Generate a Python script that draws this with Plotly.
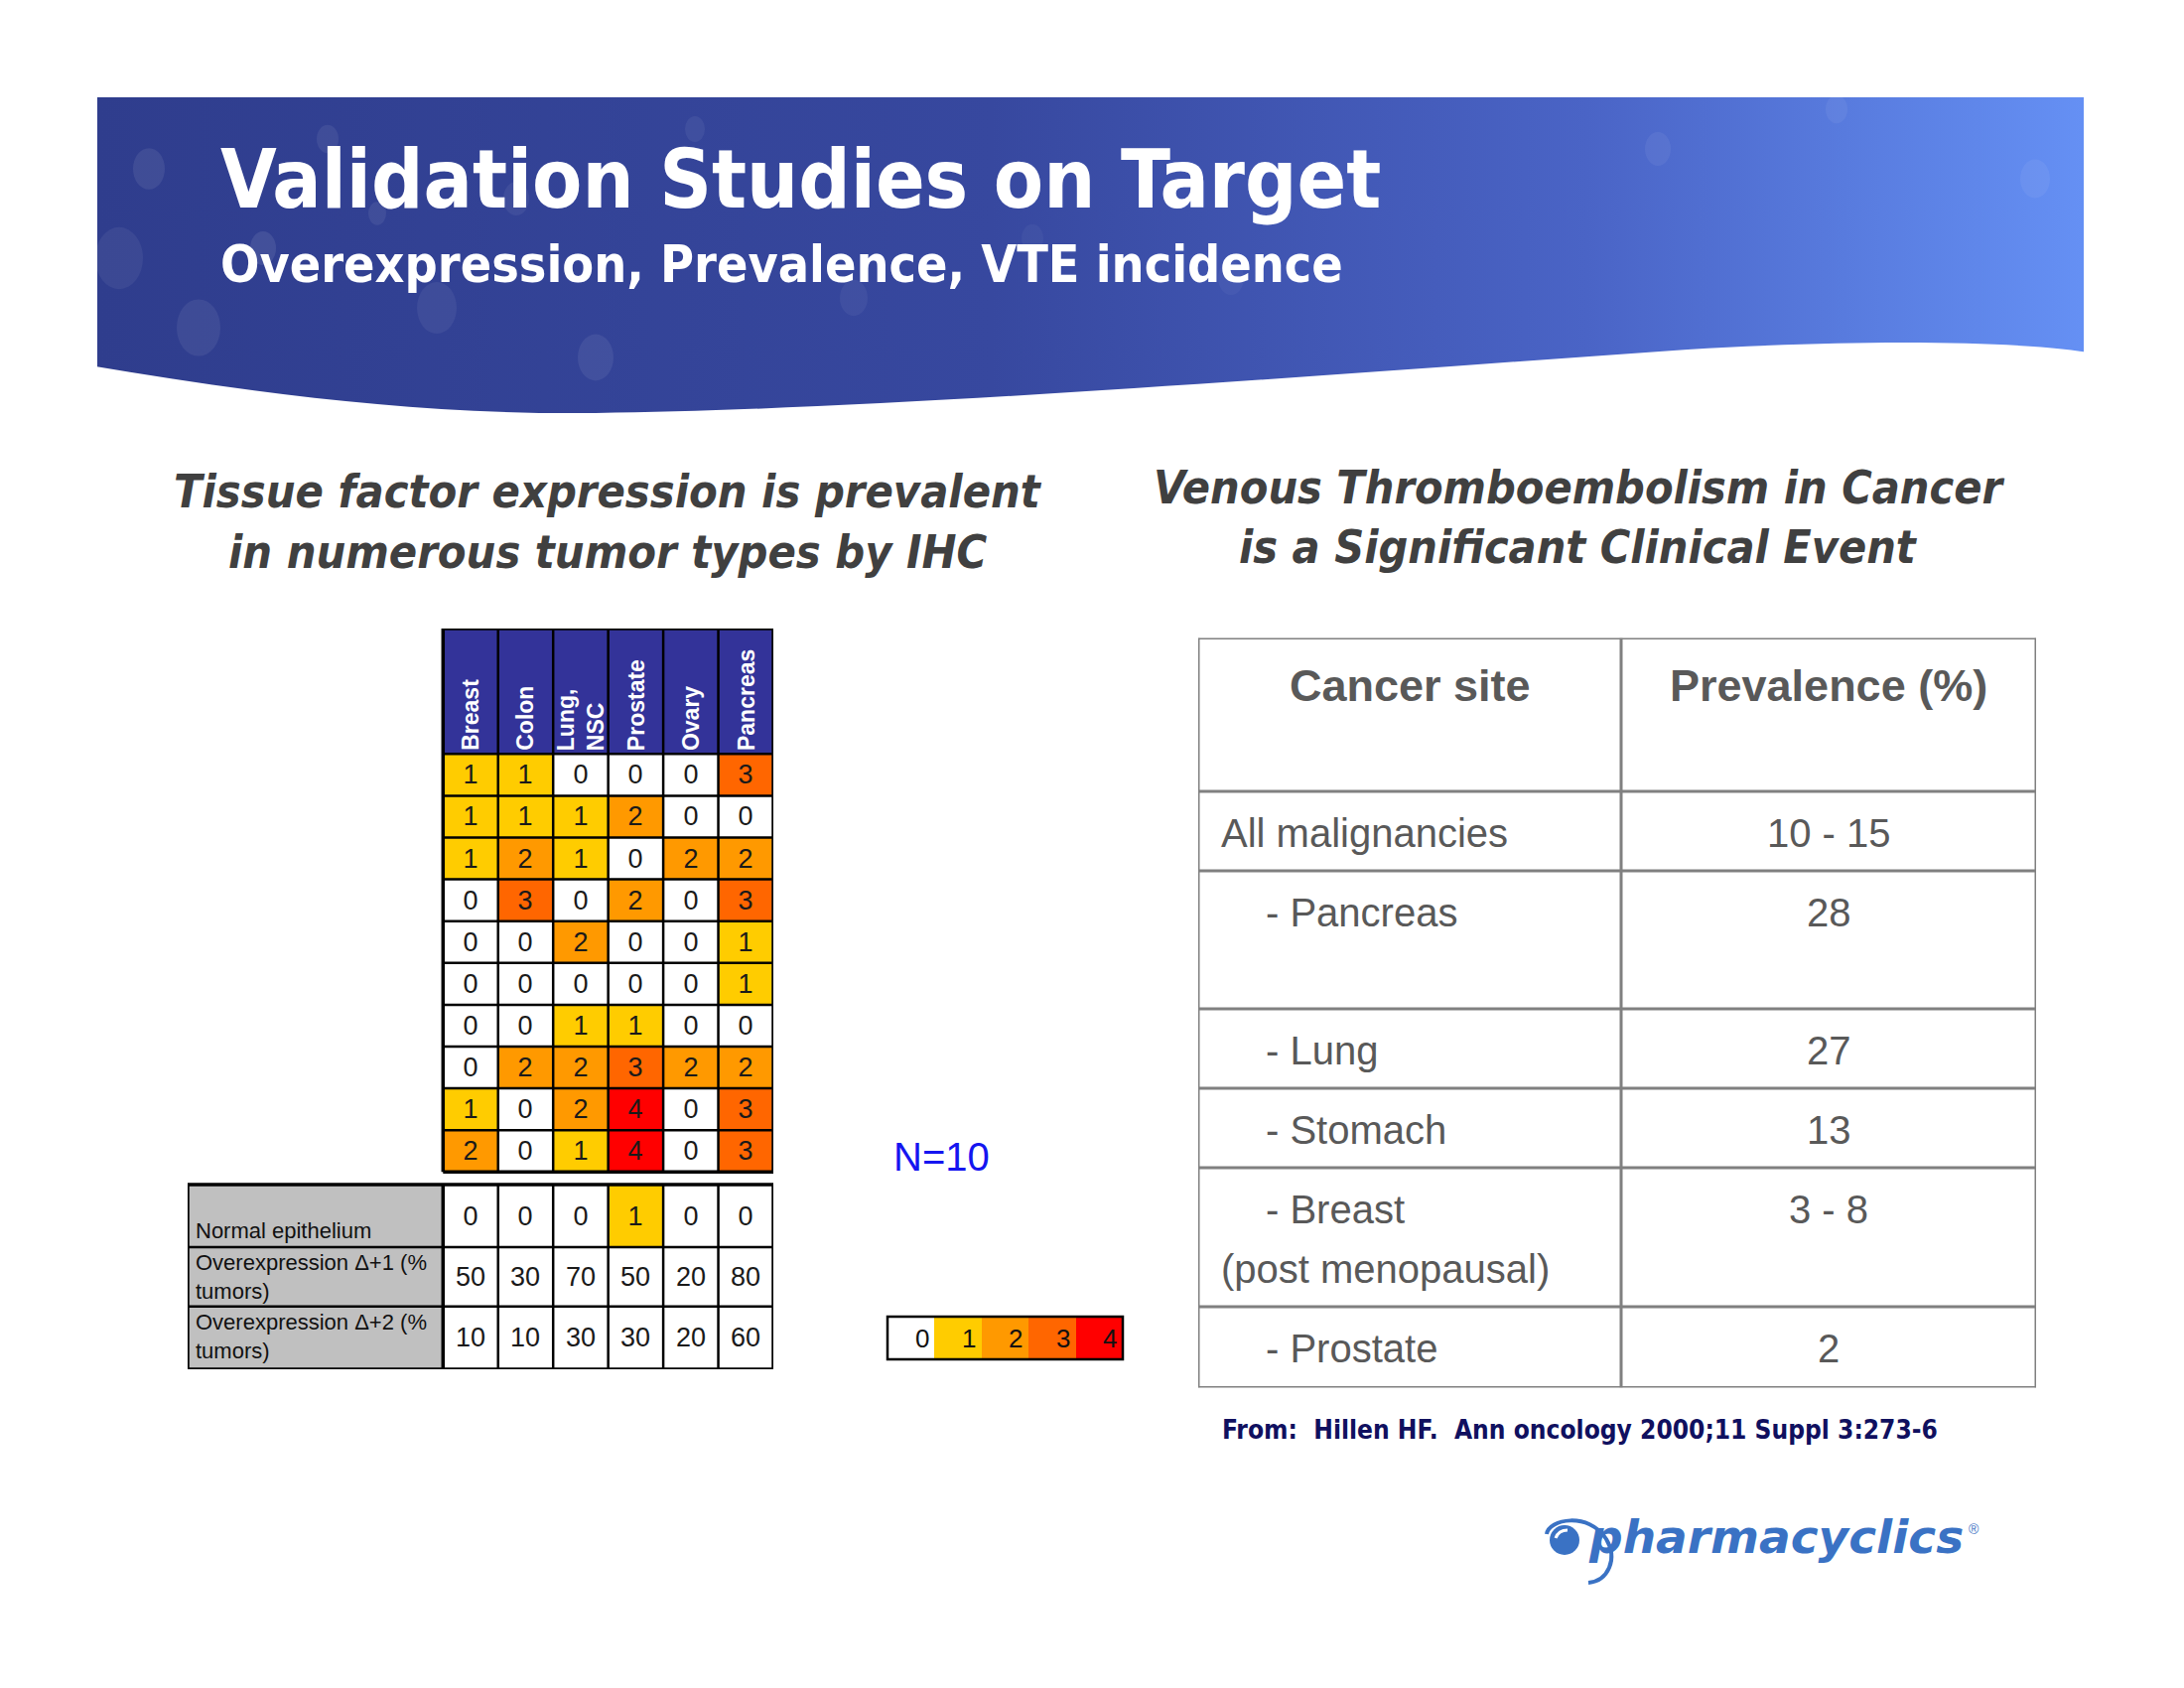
import plotly.graph_objects as go

W, H = 2200, 1700

# ---------------- data ----------------
tumor_types = ["Breast", "Colon", "Lung,<br>NSC", "Prostate", "Ovary", "Pancreas"]
ihc_scores = [
    [1, 1, 0, 0, 0, 3],
    [1, 1, 1, 2, 0, 0],
    [1, 2, 1, 0, 2, 2],
    [0, 3, 0, 2, 0, 3],
    [0, 0, 2, 0, 0, 1],
    [0, 0, 0, 0, 0, 1],
    [0, 0, 1, 1, 0, 0],
    [0, 2, 2, 3, 2, 2],
    [1, 0, 2, 4, 0, 3],
    [2, 0, 1, 4, 0, 3],
]
normal_epithelium = [0, 0, 0, 1, 0, 0]
overexpression_plus1 = [50, 30, 70, 50, 20, 80]
overexpression_plus2 = [10, 10, 30, 30, 20, 60]
lower_row_labels = [
    "Normal epithelium",
    "Overexpression \u0394+1 (%<br>tumors)",
    "Overexpression \u0394+2 (%<br>tumors)",
]
score_levels = [0, 1, 2, 3, 4]
sample_size_label = "N=10"

vte_headers = ["Cancer site", "Prevalence (%)"]
vte_sites = ["All malignancies", "- Pancreas", "- Lung", "- Stomach", "- Breast", "- Prostate"]
vte_site_notes = ["", "", "", "", "(post menopausal)", ""]
vte_prevalence = ["10 - 15", "28", "27", "13", "3 - 8", "2"]

title_text = "Validation Studies on Target"
subtitle_text = "Overexpression, Prevalence, VTE incidence"
left_heading = ["Tissue factor expression is prevalent", "in numerous tumor types by IHC"]
right_heading = ["Venous Thromboembolism in Cancer", "is a Significant Clinical Event"]
source_text = "From:\u00a0\u00a0Hillen HF.\u00a0\u00a0Ann oncology 2000;11 Suppl 3:273-6"
logo_text = "pharmacyclics"

# ---------------- styles ----------------
score_colors = ["#FFFFFF", "#FFCC00", "#FF9900", "#FF6600", "#FF0000"]
FONT_TITLE = "DejaVu Sans Condensed, DejaVu Sans, Verdana, sans-serif"
FONT_WIDE = "DejaVu Sans, Verdana, sans-serif"
FONT_ARIAL = "Liberation Sans, Arial, Helvetica, sans-serif"
HEADER_BLUE = "#333399"
LABEL_GRAY = "#C0C0C0"
TABLE_LINE = "#808080"
TABLE_TEXT = "#595959"
LOGO_BLUE = "#3A72C4"


def discrete_scale(colors):
    n = len(colors)
    cs = []
    for i, c in enumerate(colors):
        cs.append([i / n, c])
        cs.append([(i + 1) / n, c])
    return cs


score_scale = discrete_scale(score_colors)


def hidden_axis(domain, rng, anchor=None):
    d = dict(domain=domain, range=rng, visible=False, fixedrange=True,
             showgrid=False, zeroline=False, autorange=False)
    if anchor:
        d["anchor"] = anchor
    return d


fig = go.Figure()
shapes = []
annotations = []


def line(xref, yref, x0, y0, x1, y1, color="black", width=2.5):
    shapes.append(dict(type="line", xref=xref, yref=yref, x0=x0, y0=y0, x1=x1, y1=y1,
                       line=dict(color=color, width=width), layer="above"))


def text(xref, yref, x, y, s, size, color, family, xanchor="center", yanchor="middle",
         weight="normal", style="normal", align="center", angle=0, borderpad=1):
    annotations.append(dict(xref=xref, yref=yref, x=x, y=y, text=s, showarrow=False,
                            xanchor=xanchor, yanchor=yanchor, align=align, textangle=angle,
                            borderpad=borderpad,
                            font=dict(size=size, color=color, family=family,
                                      weight=weight, style=style)))


# ---------------- canvas (banner, headings) ----------------
fig.add_trace(go.Scatter(
    x=[98, 2099, 2099, 98, 98], y=[98, 98, 430, 430, 98], mode="lines", fill="toself",
    line=dict(width=0, color="rgba(0,0,0,0)"),
    fillgradient=dict(type="horizontal",
                      colorscale=[[0, "#2F3D8D"], [0.45, "#37489F"], [0.75, "#4A64C6"], [1, "#6590F4"]]),
    hoverinfo="skip", showlegend=False, xaxis="x", yaxis="y"))

bokeh = [(150, 170, 16, .08), (200, 330, 22, .07), (265, 250, 13, .09), (330, 140, 11, .07),
         (440, 310, 20, .06), (520, 200, 13, .06), (600, 360, 18, .07), (700, 130, 10, .06),
         (860, 300, 14, .05), (1040, 240, 11, .04), (1240, 280, 13, .04), (1670, 150, 13, .06),
         (1850, 110, 11, .06), (2050, 180, 15, .06), (120, 260, 24, .06), (380, 215, 9, .07)]
for cx, cy, r, a in bokeh:
    shapes.append(dict(type="circle", xref="x", yref="y", x0=cx - r, x1=cx + r, y0=cy - r * 1.3, y1=cy + r * 1.3,
                       fillcolor=f"rgba(255,255,255,{a})", line=dict(width=0), layer="above"))
# white wave cutting the bottom of the banner
shapes.append(dict(type="path", xref="x", yref="y",
                   path="M 90 368 C 250 395, 420 418, 600 416 C 900 412, 1300 380, 1700 352 "
                        "C 1900 340, 2050 345, 2110 356 L 2110 440 L 90 440 Z",
                   fillcolor="white", line=dict(width=0), layer="above"))

text("x", "y", 220, 180, title_text, 81.5, "white", FONT_TITLE, xanchor="left", weight="bold")
text("x", "y", 220, 266, subtitle_text, 51.6, "white", FONT_TITLE, xanchor="left", weight="bold")
for i, s in enumerate(left_heading):
    text("x", "y", 612, 495 + 61 * i, s, 46.5, "#404040", FONT_TITLE, weight="bold", style="italic")
for i, s in enumerate(right_heading):
    text("x", "y", 1590, 491 + 60 * i, s, 46.3, "#404040", FONT_TITLE, weight="bold", style="italic")

text("x", "y", 898, 1165, sample_size_label, 40, "#1515F0", FONT_ARIAL, xanchor="left")
text("x", "y", 1229, 1440, source_text, 26.1, "#10105F", FONT_TITLE, xanchor="left", weight="bold")

# logo
text("x", "y", 1598, 1547, logo_text, 47, LOGO_BLUE, FONT_WIDE, xanchor="left", weight="bold", style="italic")
text("x", "y", 1981, 1540, "\u00ae", 14, LOGO_BLUE, FONT_ARIAL, xanchor="left")
shapes.append(dict(type="circle", xref="x", yref="y", x0=1561, x1=1591, y0=1536, y1=1566,
                   fillcolor=LOGO_BLUE, line=dict(width=0), layer="above"))
shapes.append(dict(type="path", xref="x", yref="y",
                   path="M 1567 1549 Q 1570 1541 1579 1541",
                   line=dict(color="white", width=3), layer="above"))
shapes.append(dict(type="path", xref="x", yref="y",
                   path="M 1558 1545 C 1560 1530, 1600 1522, 1618 1550 C 1630 1570, 1620 1592, 1600 1594",
                   line=dict(color=LOGO_BLUE, width=4), layer="above"))

# ---------------- left table (IHC heat map) ----------------
LT_LEFT, LT_RIGHT, LT_TOP, LT_BOTTOM = 189, 779, 633, 1379
LABEL_U, HEADER_U, GAP_U = 4.64, 3.0, 0.3
LOWER_U = [1.5, 1.42, 1.5]
n_rows, n_cols = len(ihc_scores), len(tumor_types)
lower_edges = [n_rows + GAP_U]
for u in LOWER_U:
    lower_edges.append(lower_edges[-1] + u)

fig.add_trace(go.Heatmap(
    z=ihc_scores, x=list(range(n_cols + 1)), y=list(range(n_rows + 1)),
    colorscale=score_scale, zmin=-0.5, zmax=len(score_colors) - 0.5, showscale=False,
    texttemplate="%{z}", textfont=dict(family=FONT_ARIAL, size=27, color="#1A1A1A"),
    hoverinfo="skip", xaxis="x2", yaxis="y2"))
fig.add_trace(go.Heatmap(
    z=[normal_epithelium], x=list(range(n_cols + 1)), y=lower_edges[0:2],
    colorscale=score_scale, zmin=-0.5, zmax=len(score_colors) - 0.5, showscale=False,
    texttemplate="%{z}", textfont=dict(family=FONT_ARIAL, size=27, color="#1A1A1A"),
    hoverinfo="skip", xaxis="x2", yaxis="y2"))

shapes.append(dict(type="rect", xref="x2", yref="y2", x0=0, x1=n_cols, y0=-HEADER_U, y1=0,
                   fillcolor=HEADER_BLUE, line=dict(width=0), layer="below"))
shapes.append(dict(type="rect", xref="x2", yref="y2", x0=-LABEL_U, x1=0,
                   y0=lower_edges[0], y1=lower_edges[-1],
                   fillcolor=LABEL_GRAY, line=dict(width=0), layer="below"))

for i, name in enumerate(tumor_types):
    text("x2", "y2", i + 0.5, -0.06, name, 23, "white", FONT_ARIAL, weight="bold",
         yanchor="bottom", align="left", angle=-90, borderpad=0)

for r, vals in enumerate([overexpression_plus1, overexpression_plus2], start=1):
    yc = (lower_edges[r] + lower_edges[r + 1]) / 2
    for i, v in enumerate(vals):
        text("x2", "y2", i + 0.5, yc, str(v), 27, "#1A1A1A", FONT_ARIAL)

text("x2", "y2", -LABEL_U + 0.1, lower_edges[1] - 0.05, lower_row_labels[0], 22, "#111111",
     FONT_ARIAL, xanchor="left", yanchor="bottom", align="left")
for r in (1, 2):
    text("x2", "y2", -LABEL_U + 0.1, lower_edges[r] + 0.03, lower_row_labels[r], 22, "#111111",
         FONT_ARIAL, xanchor="left", yanchor="top", align="left")

# grid lines: heat map
for k in range(n_cols + 1):
    line("x2", "y2", k, -HEADER_U, k, n_rows, width=3.5 if k in (0, n_cols) else 2.5)
line("x2", "y2", 0, -HEADER_U, n_cols, -HEADER_U, width=3.5)
for r in range(n_rows + 1):
    line("x2", "y2", 0, r, n_cols, r, width=3.5 if r == n_rows else 2.5)
# grid lines: lower table
for j, e in enumerate(lower_edges):
    line("x2", "y2", -LABEL_U, e, n_cols, e, width=3.5 if j in (0, len(lower_edges) - 1) else 2.5)
for k in [-LABEL_U] + list(range(n_cols + 1)):
    line("x2", "y2", k, lower_edges[0], k, lower_edges[-1], width=3.5 if k in (-LABEL_U, 0, n_cols) else 2.5)

# ---------------- legend bar ----------------
fig.add_trace(go.Heatmap(
    z=[score_levels], x=score_levels, y=[0], colorscale=score_scale,
    zmin=-0.5, zmax=len(score_colors) - 0.5, showscale=False, hoverinfo="skip",
    xaxis="x3", yaxis="y3"))
for lvl in score_levels:
    text("x3", "y3", lvl + 0.42, 0, str(lvl), 26, "#111111", FONT_ARIAL, xanchor="right")
shapes.append(dict(type="rect", xref="x3 domain", yref="y3 domain", x0=0, x1=1, y0=0, y1=1,
                   line=dict(color="black", width=2.5), layer="above"))

# ---------------- right table (VTE prevalence) ----------------
RT_LEFT, RT_RIGHT, RT_TOP, RT_BOTTOM = 1207, 2051, 642.6, 1397.5
col_w = [426, 418]
row_h = [154.4, 80, 139, 80, 80, 140, 81.5]
tot_w, tot_h = sum(col_w), sum(row_h)
row_tops = [0]
for h in row_h:
    row_tops.append(row_tops[-1] + h)

for xk in [0, col_w[0], tot_w]:
    line("x4", "y4", xk, 0, xk, tot_h, color=TABLE_LINE, width=3)
for yk in row_tops:
    line("x4", "y4", 0, yk, tot_w, yk, color=TABLE_LINE, width=3)

text("x4", "y4", col_w[0] / 2, 48, vte_headers[0], 45, TABLE_TEXT, FONT_ARIAL, weight="bold")
text("x4", "y4", col_w[0] + col_w[1] / 2, 48, vte_headers[1], 45, TABLE_TEXT, FONT_ARIAL, weight="bold")
for i, (site, note, prev) in enumerate(zip(vte_sites, vte_site_notes, vte_prevalence)):
    top = row_tops[i + 1]
    xs = 66 if site.startswith("-") else 21
    text("x4", "y4", xs, top + 42, site, 40, TABLE_TEXT, FONT_ARIAL, xanchor="left")
    if note:
        text("x4", "y4", 21, top + 102, note, 40, TABLE_TEXT, FONT_ARIAL, xanchor="left")
    text("x4", "y4", col_w[0] + col_w[1] / 2, top + 42, prev, 40, TABLE_TEXT, FONT_ARIAL)

# ---------------- layout ----------------
fig.update_layout(
    width=W, height=H, margin=dict(l=0, r=0, t=0, b=0),
    paper_bgcolor="white", plot_bgcolor="rgba(0,0,0,0)", showlegend=False,
    xaxis=hidden_axis([0, 1], [0, W], "y"),
    yaxis=hidden_axis([0, 1], [H, 0], "x"),
    xaxis2=hidden_axis([LT_LEFT / W, LT_RIGHT / W], [-LABEL_U, n_cols], "y2"),
    yaxis2=hidden_axis([1 - LT_BOTTOM / H, 1 - LT_TOP / H], [lower_edges[-1], -HEADER_U], "x2"),
    xaxis3=hidden_axis([894 / W, 1131 / W], [-0.5, len(score_levels) - 0.5], "y3"),
    yaxis3=hidden_axis([1 - 1369 / H, 1 - 1326 / H], [-0.5, 0.5], "x3"),
    xaxis4=hidden_axis([RT_LEFT / W, RT_RIGHT / W], [0, tot_w], "y4"),
    yaxis4=hidden_axis([1 - RT_BOTTOM / H, 1 - RT_TOP / H], [tot_h, 0], "x4"),
    shapes=shapes, annotations=annotations,
)

fig.write_html("out.html", config={"displayModeBar": False},
               post_script="document.body.style.margin='0';")
